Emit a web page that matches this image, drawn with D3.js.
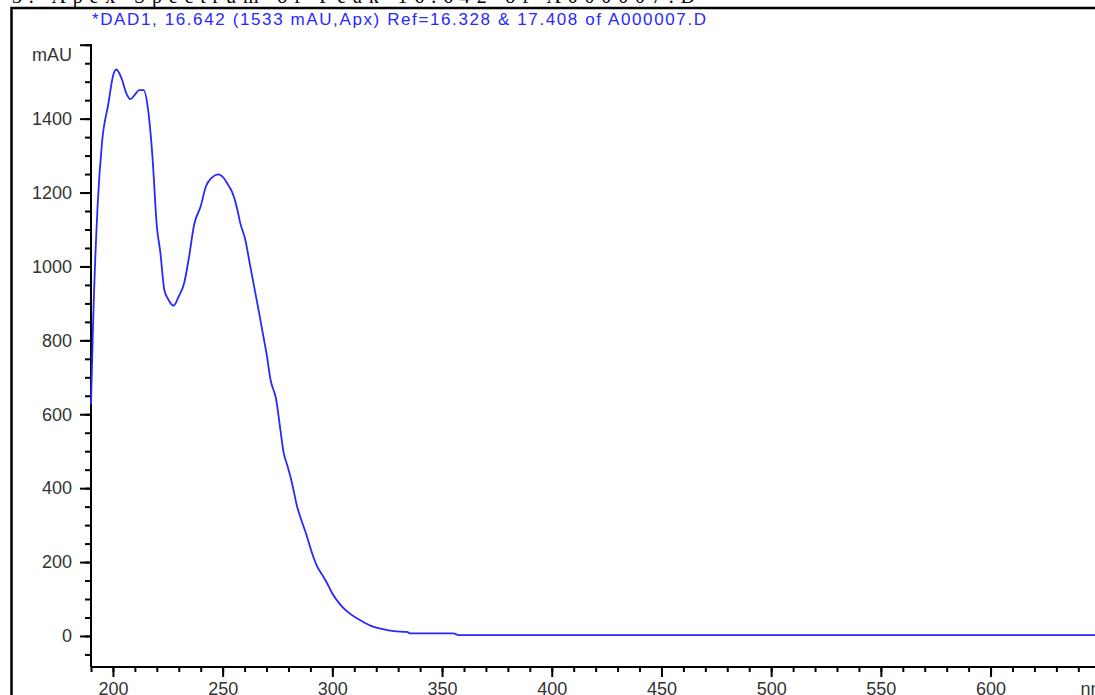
<!DOCTYPE html>
<html>
<head>
<meta charset="utf-8">
<script src="https://cdn.jsdelivr.net/npm/d3@7"></script>
<style>
  body { margin: 0; background: #fff; overflow: hidden; }
  svg { display: block; }
  .tick text { font-family: Arial, "Liberation Sans", sans-serif; font-size: 18px; fill: #333; }
</style>
</head>
<body>
<svg width="1095" height="695"></svg>
<script>
// spectrum
const wavelengths = [190, 191, 193, 195, 198, 200, 201.5, 204, 206, 208, 210, 212, 214, 216, 218, 220, 221.6, 223.4, 225.3, 227.6,
  230, 232.5, 234.5, 237, 240, 242.4, 245, 248, 250.4, 252.4, 254.5, 256.5, 258, 260.3, 262.6, 265, 267, 268, 270.2, 271.8,
  274.4, 276.3, 277.8, 279.6, 281.6, 283.9, 285.8, 288.4, 290.7, 293, 295.3, 297.5, 299.8, 303.6, 307.4, 312, 317.3, 322.6, 328, 334,
  335.5, 355, 358, 650];
const absorbance = [626, 856, 1163, 1334, 1443, 1515, 1533, 1508, 1470, 1453, 1465, 1477, 1477, 1425, 1298, 1109, 1038, 937, 910, 894,
  919, 956, 1019, 1113, 1163, 1217, 1240, 1249, 1240, 1222, 1199, 1159, 1118, 1073, 1000, 925, 862, 829, 757, 694,
  640, 559, 496, 459, 414, 351, 315, 270, 225, 189, 166, 144, 117, 85, 63, 45, 28, 19, 13, 11,
  7, 7, 2, 2];
const xMajor = [200, 250, 300, 350, 400, 450, 500, 550, 600];
const yMajor = [0, 200, 400, 600, 800, 1000, 1200, 1400, 1600];
const titleText = "*DAD1, 16.642 (1533 mAU,Apx) Ref=16.328 & 17.408 of A000007.D";
const headerText = "3. Apex Spectrum of Peak 16.642 of A000007.D";

const svg = d3.select('svg');
const blue = '#2828ff';

const x = d3.scaleLinear().domain([190, 647.6]).range([91, 1095]);
const y = d3.scaleLinear().domain([-84, 1602]).range([667, 44]);

// page frame + cut-off header
svg.append('text')
    .attr('x', 12).attr('y', 2.5)
    .attr('textLength', 683).attr('lengthAdjust', 'spacing')
    .attr('font-family', '"Liberation Serif", "Times New Roman", serif')
    .attr('font-size', 20)
    .attr('fill', '#000')
    .text(headerText);
svg.append('path')
    .attr('d', 'M11.5,695V8H1095')
    .attr('fill', 'none')
    .attr('stroke', '#000')
    .attr('stroke-width', 2.5);

svg.append('text')
    .attr('x', 92).attr('y', 25)
    .attr('textLength', 614).attr('lengthAdjust', 'spacing')
    .attr('font-family', 'Arial, "Liberation Sans", sans-serif')
    .attr('font-size', 17)
    .attr('fill', blue)
    .text(titleText);

// minor ticks
svg.append('g')
    .attr('transform', 'translate(91,0)')
    .call(d3.axisLeft(y).tickValues(d3.range(-50, 1601, 50)).tickSize(6).tickFormat(''))
    .call(g => g.selectAll('line').attr('stroke', '#000').attr('stroke-width', 2))
    .call(g => g.select('.domain').remove());
svg.append('g')
    .attr('transform', 'translate(0,667)')
    .call(d3.axisBottom(x).tickValues(d3.range(190, 641, 10)).tickSize(5).tickFormat(''))
    .call(g => g.selectAll('line').attr('stroke', '#000').attr('stroke-width', 2))
    .call(g => g.select('.domain').remove());

// major ticks + labels
svg.append('g')
    .attr('transform', 'translate(91,0)')
    .call(d3.axisLeft(y).tickValues(yMajor).tickSize(11).tickPadding(8)
        .tickFormat(d => d === 1600 ? '' : d))
    .call(g => g.selectAll('line').attr('stroke', '#000').attr('stroke-width', 2))
    .call(g => g.select('.domain').attr('d', 'M0,44V667').attr('stroke', '#000').attr('stroke-width', 2));
svg.append('g')
    .attr('transform', 'translate(0,667)')
    .call(d3.axisBottom(x).tickValues(xMajor).tickSize(10).tickPadding(5))
    .call(g => g.selectAll('line').attr('stroke', '#000').attr('stroke-width', 2))
    .call(g => g.select('.domain').attr('d', 'M91,0H1095').attr('stroke', '#000').attr('stroke-width', 2));

svg.append('text')
    .attr('x', 72).attr('y', 61)
    .attr('text-anchor', 'end')
    .attr('font-family', 'Arial, "Liberation Sans", sans-serif')
    .attr('font-size', 18)
    .attr('fill', '#333')
    .text('mAU');
svg.append('text')
    .attr('x', x(641)).attr('y', 695)
    .attr('font-family', 'Arial, "Liberation Sans", sans-serif')
    .attr('font-size', 18)
    .attr('fill', '#333')
    .text('nm');

// spectrum
const line = d3.line()
    .x((d, i) => x(wavelengths[i]))
    .y(d => y(d))
    .curve(d3.curveMonotoneX);
svg.append('path')
    .datum(absorbance)
    .attr('d', line)
    .attr('fill', 'none')
    .attr('stroke', blue)
    .attr('stroke-width', 1.8);
</script>
</body>
</html>
